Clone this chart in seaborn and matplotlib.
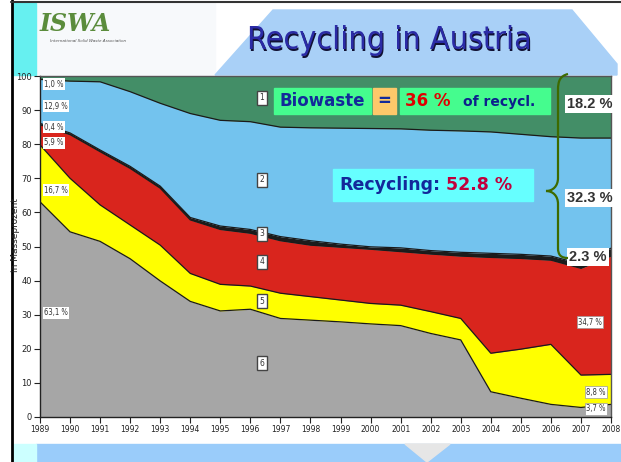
import matplotlib
matplotlib.use("Agg")
import matplotlib.pyplot as plt
from matplotlib.patches import Rectangle, Polygon, PathPatch
from matplotlib.path import Path
import numpy as np
import pandas as pd
import seaborn as sns

# Share of each waste stream in Masseprozent, bottom layer first (6 -> 1)
years = list(range(1989, 2009))
layer6 = [63.1, 54.3, 51.5, 46.4, 39.9, 33.9, 31.1, 31.6, 28.9, 28.4,
          27.9, 27.3, 26.8, 24.5, 22.6, 7.4, 5.5, 3.7, 2.8, 3.7]   # grey
layer5 = [16.7, 15.7, 10.7, 9.9, 10.5, 8.2, 7.8, 6.8, 7.4, 6.9,
          6.4, 6.0, 6.0, 6.4, 6.3, 11.3, 14.4, 17.6, 9.5, 8.8]      # yellow
layer4 = [5.9, 12.8, 15.6, 16.6, 16.7, 15.7, 16.1, 15.5, 15.4, 15.1,
          15.5, 15.9, 15.7, 16.9, 18.3, 28.1, 26.6, 24.7, 31.3, 34.7]  # red
layer3 = [0.4, 0.5, 0.5, 0.6, 0.6, 0.7, 1.0, 1.1, 1.2, 1.3,
          0.9, 0.7, 1.1, 1.0, 1.1, 1.2, 1.2, 1.2, 1.3, 2.3]         # black
layer2 = [12.9, 15.2, 20.0, 21.9, 24.3, 30.5, 31.0, 31.6, 32.1, 33.1,
          34.0, 34.7, 34.9, 35.3, 35.6, 35.6, 35.2, 35.0, 36.9, 32.3]  # blue
layer1 = [1.0, 1.5, 1.7, 4.6, 8.0, 11.0, 13.0, 13.4, 15.0, 15.2,
          15.3, 15.4, 15.5, 15.9, 16.1, 16.4, 17.1, 17.8, 18.2, 18.2]  # green

layer_names = ["6", "5", "4", "3", "2", "1"]
layer_colors = ["#a6a6a6", "#ffff00", "#d9251d", "#1c1c1c", "#73c3ee", "#438e67"]

left_labels = ["63,1 %", "16,7 %", "5,9 %", "0,4 %", "12,9 %", "1,0 %"]
right_labels = ["3,7 %", "8,8 %", "34,7 %"]

W, H = 621, 462


def fx(x):
    return x / W


def fy(y):
    return 1 - y / H


sns.set_theme(style="ticks")
plt.rcParams["font.family"] = ["DejaVu Sans"]

fig = plt.figure(figsize=(W / 100, H / 100), dpi=100)
fig.patch.set_facecolor("white")

# slide decoration
fig.add_artist(Rectangle((fx(36), fy(75)), fx(215) - fx(36), fy(3) - fy(75),
                         transform=fig.transFigure, color="#f7f9fb", zorder=0))
fig.add_artist(Polygon([(fx(215), fy(75)), (fx(273), fy(10)), (fx(572), fy(10)),
                        (fx(617), fy(64)), (fx(617), fy(75))],
                       transform=fig.transFigure, color="#a9d0f7", zorder=0))
fig.add_artist(Rectangle((fx(13), fy(75)), fx(23), fy(3) - fy(75),
                         transform=fig.transFigure, color="#66f0f0", zorder=0))
fig.add_artist(Rectangle((fx(36), 0), 1, fy(444),
                         transform=fig.transFigure, color="#9accfa", zorder=0))
fig.add_artist(Rectangle((fx(13), 0), fx(23), fy(444),
                         transform=fig.transFigure, color="#ccffff", zorder=0))
fig.add_artist(Polygon([(fx(405), fy(444)), (fx(450), fy(444)), (fx(427), fy(462))],
                       transform=fig.transFigure, color="#e6e6e6", zorder=0))
fig.add_artist(plt.Line2D([fx(11.5), fx(11.5)], [0, 1], transform=fig.transFigure,
                          color="black", lw=2))
fig.add_artist(plt.Line2D([fx(11), 1], [fy(2), fy(2)], transform=fig.transFigure,
                          color="#333333", lw=1.5))

# logo and title
fig.text(fx(40), fy(24), "ISWA", fontsize=17, fontstyle="italic", fontweight="bold",
         family="DejaVu Serif", color="#5b8c3c", va="center", ha="left")
fig.text(fx(50), fy(41), "International Solid Waste Association", fontsize=3,
         color="#555555", va="center", ha="left", fontstyle="italic")
fig.text(fx(389) + 0.002, fy(41) - 0.003, "Recycling in Austria", fontsize=23,
         color="#111133", ha="center", va="center", fontstretch="condensed")
fig.text(fx(389), fy(41), "Recycling in Austria", fontsize=23,
         color="#2b2ba6", ha="center", va="center", fontstretch="condensed")

# chart
ax = fig.add_axes([fx(40), fy(417), fx(611) - fx(40), fy(76) - fy(417)])
ax.set_facecolor("white")
layers = [layer6, layer5, layer4, layer3, layer2, layer1]
ax.stackplot(years, *layers, colors=layer_colors, linewidth=0, zorder=1)

tops = np.cumsum(np.array(layers), axis=0)
df_tops = pd.DataFrame({
    "year": years * 5,
    "value": np.concatenate(tops[:5]),
    "boundary": np.repeat(layer_names[:5], len(years)),
})
sns.lineplot(data=df_tops, x="year", y="value", units="boundary", estimator=None,
             color="#1a1a1a", linewidth=0.9, ax=ax, legend=False, zorder=2)

ax.set_xlim(1989, 2008)
ax.set_ylim(0, 100)
ax.set_xticks(years)
ax.set_xticklabels([str(y) for y in years], fontsize=5.5, color="#222222")
ax.set_yticks(range(0, 101, 10))
ax.set_yticklabels([str(v) for v in range(0, 101, 10)], fontsize=6, color="#222222")
ax.tick_params(direction="out", length=4, width=0.8, pad=2, colors="#222222")
ax.set_xlabel("")
ax.set_ylabel("")
for side in ["left", "bottom"]:
    ax.spines[side].set_color("#222222")
    ax.spines[side].set_linewidth(1)
for side in ["top", "right"]:
    ax.spines[side].set_color("#555555")
    ax.spines[side].set_linewidth(1)

fig.text(fx(16), fy(235), "in Masseprozent", rotation=90, fontsize=6.5,
         ha="center", va="center", color="#222222")

small_box = dict(boxstyle="square,pad=0.15", fc="white", ec="none")
for lab, y in zip(left_labels, [313, 190, 143, 127, 106, 84]):
    fig.text(fx(44), fy(y), lab, fontsize=5.5, ha="left", va="center",
             color="#333333", bbox=small_box, fontstretch="condensed")
for lab, (x, y) in zip(right_labels, [(596, 409), (596, 392), (590, 322)]):
    fig.text(fx(x), fy(y), lab, fontsize=5.5, ha="center", va="center",
             color="#333333", bbox=dict(boxstyle="square,pad=0.2", fc="white", ec="#999999", lw=0.5),
             fontstretch="condensed")

num_box = dict(boxstyle="square,pad=0.3", fc="white", ec="#444444", lw=1)
for num, y in zip(layer_names, [363, 301, 262, 234, 180, 98]):
    fig.text(fx(262), fy(y), num, fontsize=5.5, ha="center", va="center",
             color="#333333", bbox=num_box)

# highlight boxes
def box(x0, y0, x1, y1, color):
    fig.add_artist(Rectangle((fx(x0), fy(y1)), fx(x1) - fx(x0), fy(y0) - fy(y1),
                             transform=fig.transFigure, color=color, zorder=3))

box(274, 88, 371, 114, "#45fc8e")
box(373, 88, 396, 114, "#fdc86a")
box(400, 88, 550, 114, "#45fc8e")
box(333, 169, 533, 201, "#66ffff")

fig.text(fx(322), fy(101), "Biowaste", fontsize=12, fontweight="bold", color="#13299a",
         ha="center", va="center", zorder=4)
fig.text(fx(384.5), fy(101), "=", fontsize=12, fontweight="bold", color="#13299a",
         ha="center", va="center", zorder=4)
fig.text(fx(405), fy(101), "36 %", fontsize=12, fontweight="bold", color="#e00000",
         ha="left", va="center", zorder=4)
fig.text(fx(463), fy(102), "of recycl.", fontsize=10, fontweight="bold", color="#0d1f8c",
         ha="left", va="center", zorder=4)
fig.text(fx(339), fy(185), "Recycling:", fontsize=12.5, fontweight="bold", color="#13299a",
         ha="left", va="center", zorder=4)
fig.text(fx(446), fy(185), "52.8 %", fontsize=12.5, fontweight="bold", color="#c0003c",
         ha="left", va="center", zorder=4)

big_box = dict(boxstyle="square,pad=0.15", fc="white", ec="none")
for lab, (x, y) in zip(["18.2 %", "32.3 %", "2.3 %"], [(590, 104), (590, 198), (588, 257)]):
    fig.text(fx(x), fy(y), lab, fontsize=10.5, fontweight="bold", color="#333333",
             family="Liberation Sans", ha="center", va="center", bbox=big_box, zorder=5)

# curly brace
pts = [(568, 74), (560, 76), (558, 81), (558, 90),
       (558, 178),
       (558, 186), (553, 191), (546, 191),
       (553, 191), (558, 196), (558, 204),
       (558, 248),
       (558, 255), (561, 258), (568, 258)]
codes = [Path.MOVETO, Path.CURVE4, Path.CURVE4, Path.CURVE4,
         Path.LINETO,
         Path.CURVE4, Path.CURVE4, Path.CURVE4,
         Path.CURVE4, Path.CURVE4, Path.CURVE4,
         Path.LINETO,
         Path.CURVE4, Path.CURVE4, Path.CURVE4]
brace = Path([(fx(x), fy(y)) for x, y in pts], codes)
fig.add_artist(PathPatch(brace, transform=fig.transFigure, fill=False,
                         ec="#3d6a00", lw=1.6, zorder=6))

fig.savefig("out.png", dpi=100)
